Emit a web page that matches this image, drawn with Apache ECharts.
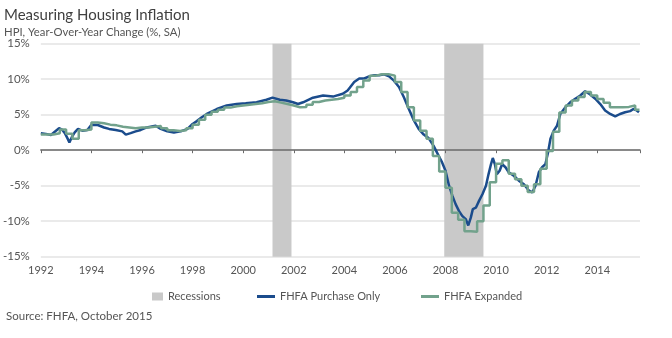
<!DOCTYPE html>
<html><head><meta charset="utf-8">
<script src="https://cdn.jsdelivr.net/npm/echarts@6/dist/echarts.min.js"></script>
<style>html,body{margin:0;padding:0;background:#fff}#c{width:672px;height:338px}</style>
</head><body><div id="c"></div>
<script>
const FONT = 'Lato, "Open Sans", sans-serif';
const titleText = 'Measuring Housing Inflation';
const subtitleText = 'HPI, Year-Over-Year Change (%, SA)';
const sourceText = 'Source: FHFA, October 2015';
const seriesNames = ['Recessions', 'FHFA Purchase Only', 'FHFA Expanded'];
const xMin = 1992, xMax = 2015.69, xStep = 2;
const yMin = -15, yMax = 15, yStep = 5;

const recessionStart = [2001.16, 2007.95];
const recessionEnd = [2001.91, 2009.5];

const purchaseDates = [
  1992.0, 1992.2, 1992.4, 1992.6, 1992.72, 1992.85, 1992.95, 1993.05, 1993.13, 1993.22,
  1993.34, 1993.47, 1993.64, 1993.84, 1994.0, 1994.25, 1994.5, 1994.7, 1994.96, 1995.22,
  1995.36, 1995.55, 1995.75, 1995.95, 1996.14, 1996.34, 1996.54, 1996.74, 1997.0, 1997.26,
  1997.53, 1997.8, 1998.0, 1998.17, 1998.35, 1998.56, 1998.96, 1999.35, 1999.74, 2000.1,
  2000.53, 2000.92, 2001.16, 2001.45, 2001.7, 2001.97, 2002.17, 2002.37, 2002.76, 2003.16,
  2003.55, 2003.94, 2004.13, 2004.39, 2004.59, 2004.79, 2004.98, 2005.18, 2005.38, 2005.57,
  2005.77, 2005.96, 2006.16, 2006.35, 2006.55, 2006.75, 2006.94, 2007.14, 2007.33, 2007.53,
  2007.73, 2007.85, 2008.0, 2008.14, 2008.27, 2008.4, 2008.53, 2008.66, 2008.8, 2008.9,
  2009.0, 2009.08, 2009.2, 2009.33, 2009.46, 2009.6, 2009.7, 2009.8, 2009.87, 2009.95,
  2010.03, 2010.14, 2010.24, 2010.37, 2010.5, 2010.7, 2010.9, 2011.1, 2011.3, 2011.43,
  2011.56, 2011.69, 2011.82, 2011.95, 2012.05, 2012.15, 2012.28, 2012.41, 2012.54, 2012.74,
  2012.93, 2013.13, 2013.33, 2013.52, 2013.72, 2013.92, 2014.12, 2014.31, 2014.51, 2014.71,
  2014.9, 2015.1, 2015.3, 2015.43, 2015.56, 2015.65
];
const purchaseValues = [
  2.4, 2.3, 2.15, 2.75, 3.1, 2.85, 2.4, 1.7, 1.1, 1.8,
  2.5, 3.0, 2.75, 2.85, 3.6, 3.55, 3.2, 3.0, 2.85, 2.65,
  2.2, 2.4, 2.65, 2.85, 3.15, 3.3, 3.45, 3.0, 2.65, 2.5,
  2.65, 3.0, 3.7, 4.1, 4.6, 5.1, 5.8, 6.3, 6.5, 6.6,
  6.75, 7.1, 7.4, 7.1, 7.0, 6.75, 6.5, 6.75, 7.4, 7.7,
  7.55, 7.95, 8.4, 9.6, 10.1, 10.1, 10.4, 10.55, 10.55, 10.7,
  10.4, 9.8, 8.9, 7.5, 5.8, 4.2, 3.0, 2.2, 1.7, 0.6,
  -0.8, -1.6, -2.9, -5.0, -6.4, -7.6, -8.55, -9.25, -9.7, -10.6,
  -9.5, -8.3, -8.1, -7.1, -6.2, -5.0, -3.4, -1.95, -1.1, -1.95,
  -3.4, -2.9, -1.95, -2.4, -3.1, -3.6, -4.3, -4.8, -5.7, -5.95,
  -5.0, -3.1, -2.4, -1.95, -0.4, 1.6, 2.75, 3.45, 5.1, 6.05,
  6.75, 7.25, 7.7, 8.3, 7.85, 7.25, 6.5, 5.6, 5.1, 4.75,
  5.1, 5.35, 5.5, 5.8, 5.6, 5.35
];

const expandedDates = [
  1992.0, 1992.25, 1992.5, 1992.75, 1993.0, 1993.25, 1993.5, 1993.75,
  1994.0, 1994.25, 1994.5, 1994.75, 1995.0, 1995.25, 1995.5, 1995.75,
  1996.0, 1996.25, 1996.5, 1996.75, 1997.0, 1997.25, 1997.5, 1997.75,
  1998.0, 1998.25, 1998.5, 1998.75, 1999.0, 1999.25, 1999.5, 1999.75,
  2000.0, 2000.25, 2000.5, 2000.75, 2001.0, 2001.25, 2001.5, 2001.75,
  2002.0, 2002.25, 2002.5, 2002.75, 2003.0, 2003.25, 2003.5, 2003.75,
  2004.0, 2004.25, 2004.5, 2004.75, 2005.0, 2005.25, 2005.5, 2005.75,
  2006.0, 2006.25, 2006.5, 2006.75, 2007.0, 2007.25, 2007.5, 2007.75,
  2008.0, 2008.25, 2008.5, 2008.75, 2009.0, 2009.25, 2009.5, 2009.75,
  2010.0, 2010.25, 2010.5, 2010.75, 2011.0, 2011.25, 2011.5, 2011.75,
  2012.0, 2012.25, 2012.5, 2012.75, 2013.0, 2013.25, 2013.5, 2013.75,
  2014.0, 2014.25, 2014.5, 2014.75, 2015.0, 2015.25, 2015.5, 2015.67
];
const expandedValues = [
  2.2, 2.2, 2.4, 2.9, 2.3, 1.6, 2.8, 2.9,
  3.9, 3.8, 3.6, 3.5, 3.3, 3.2, 3.1, 3.2,
  3.2, 3.3, 3.4, 3.1, 2.8, 2.7, 2.8, 3.1,
  3.6, 4.3, 5.0, 5.4, 5.7, 6.0, 6.2, 6.3,
  6.4, 6.5, 6.6, 6.8, 6.9, 6.7, 6.5, 6.3,
  6.05, 6.1, 6.4, 6.8, 7.0, 7.1, 7.2, 7.4,
  7.7, 8.2, 8.9, 9.8, 10.5, 10.7, 10.7, 10.5,
  9.6, 8.2, 6.05, 4.2, 2.75, 1.6, -0.8, -3.0,
  -5.3, -8.8, -9.8, -11.4, -11.5, -10.0, -7.8, -4.5,
  -1.9, -1.4, -3.3, -4.1, -5.0, -5.9, -4.8, -2.6,
  -0.1, 2.6, 5.3, 6.3, 7.0, 7.5, 8.2, 7.7,
  7.2, 6.7, 6.05, 6.05, 6.1, 6.3, 5.7, 5.7
];

const BLUE = '#1b4c8c';
const GREEN = '#72a28c';
const GRAY = '#c9c9c9';
const TEXT = '#555555';

const chart = echarts.init(document.getElementById('c'), null, { renderer: 'canvas' });
const legendText = { color: TEXT, fontSize: 11, fontFamily: FONT };

chart.setOption({
  animation: false,
  backgroundColor: '#ffffff',
  title: [
    { text: titleText, left: 4, top: 8, padding: 0, textStyle: { color: '#3f3f3f', fontSize: 15, fontWeight: 'normal', fontFamily: FONT } },
    { text: subtitleText, left: 4, top: 27, padding: 0, textStyle: { color: TEXT, fontSize: 11.3, fontWeight: 'normal', fontFamily: FONT } },
    { text: sourceText, left: 6, top: 310, padding: 0, textStyle: { color: TEXT, fontSize: 11.5, fontWeight: 'normal', fontFamily: FONT } }
  ],
  legend: [
    { data: [seriesNames[0]], left: 152, top: 291, padding: 0, icon: 'rect', itemWidth: 11, itemHeight: 8, textStyle: legendText, selectedMode: false },
    { data: [seriesNames[1]], left: 257, top: 291, padding: 0, icon: 'rect', itemWidth: 18, itemHeight: 3, textStyle: legendText, selectedMode: false },
    { data: [seriesNames[2]], left: 421, top: 291, padding: 0, icon: 'rect', itemWidth: 18, itemHeight: 3, textStyle: legendText, selectedMode: false }
  ],
  grid: { left: 38.3, right: 32, top: 43.7, bottom: 81.3 },
  xAxis: [
    {
      type: 'value', min: xMin, max: xMax, interval: xStep,
      axisLine: { show: false, onZero: false }, axisTick: { show: false }, splitLine: { show: false },
      axisLabel: {
        color: TEXT, fontSize: 11, fontFamily: FONT, margin: 8,
        formatter: v => (Math.abs(v - Math.round(v)) < 1e-6 && Math.round(v) % 2 === 0) ? String(Math.round(v)) : ''
      }
    },
    {
      type: 'value', min: xMin, max: xMax, interval: xStep, position: 'top', z: 5,
      axisLine: { show: true, onZero: true, lineStyle: { color: '#6a6a6a', width: 1.6 } },
      axisTick: { show: true, inside: true, length: 3, lineStyle: { color: '#6a6a6a' } },
      axisLabel: { show: false }, splitLine: { show: false }
    }
  ],
  yAxis: {
    type: 'value', min: yMin, max: yMax, interval: yStep,
    axisLine: { show: false }, axisTick: { show: false },
    axisLabel: { formatter: '{value}%', color: TEXT, fontSize: 11.5, fontFamily: FONT, margin: 11 },
    splitLine: { lineStyle: { color: '#e3e3e3', width: 1.5 } }
  },
  series: [
    {
      name: seriesNames[0], type: 'line', data: [], color: GRAY, z: 1,
      markArea: {
        silent: true, itemStyle: { color: GRAY },
        data: recessionStart.map((s, i) => [{ xAxis: s }, { xAxis: recessionEnd[i] }])
      }
    },
    {
      name: seriesNames[1], type: 'line', color: BLUE, symbol: 'none', z: 6,
      lineStyle: { color: BLUE, width: 2.5 },
      data: purchaseDates.map((d, i) => [d, purchaseValues[i]])
    },
    {
      name: seriesNames[2], type: 'line', color: GREEN, symbol: 'none', z: 7, step: 'end',
      lineStyle: { color: GREEN, width: 2.5 },
      data: expandedDates.map((d, i) => [d, expandedValues[i]])
    }
  ]
});
</script></body></html>
